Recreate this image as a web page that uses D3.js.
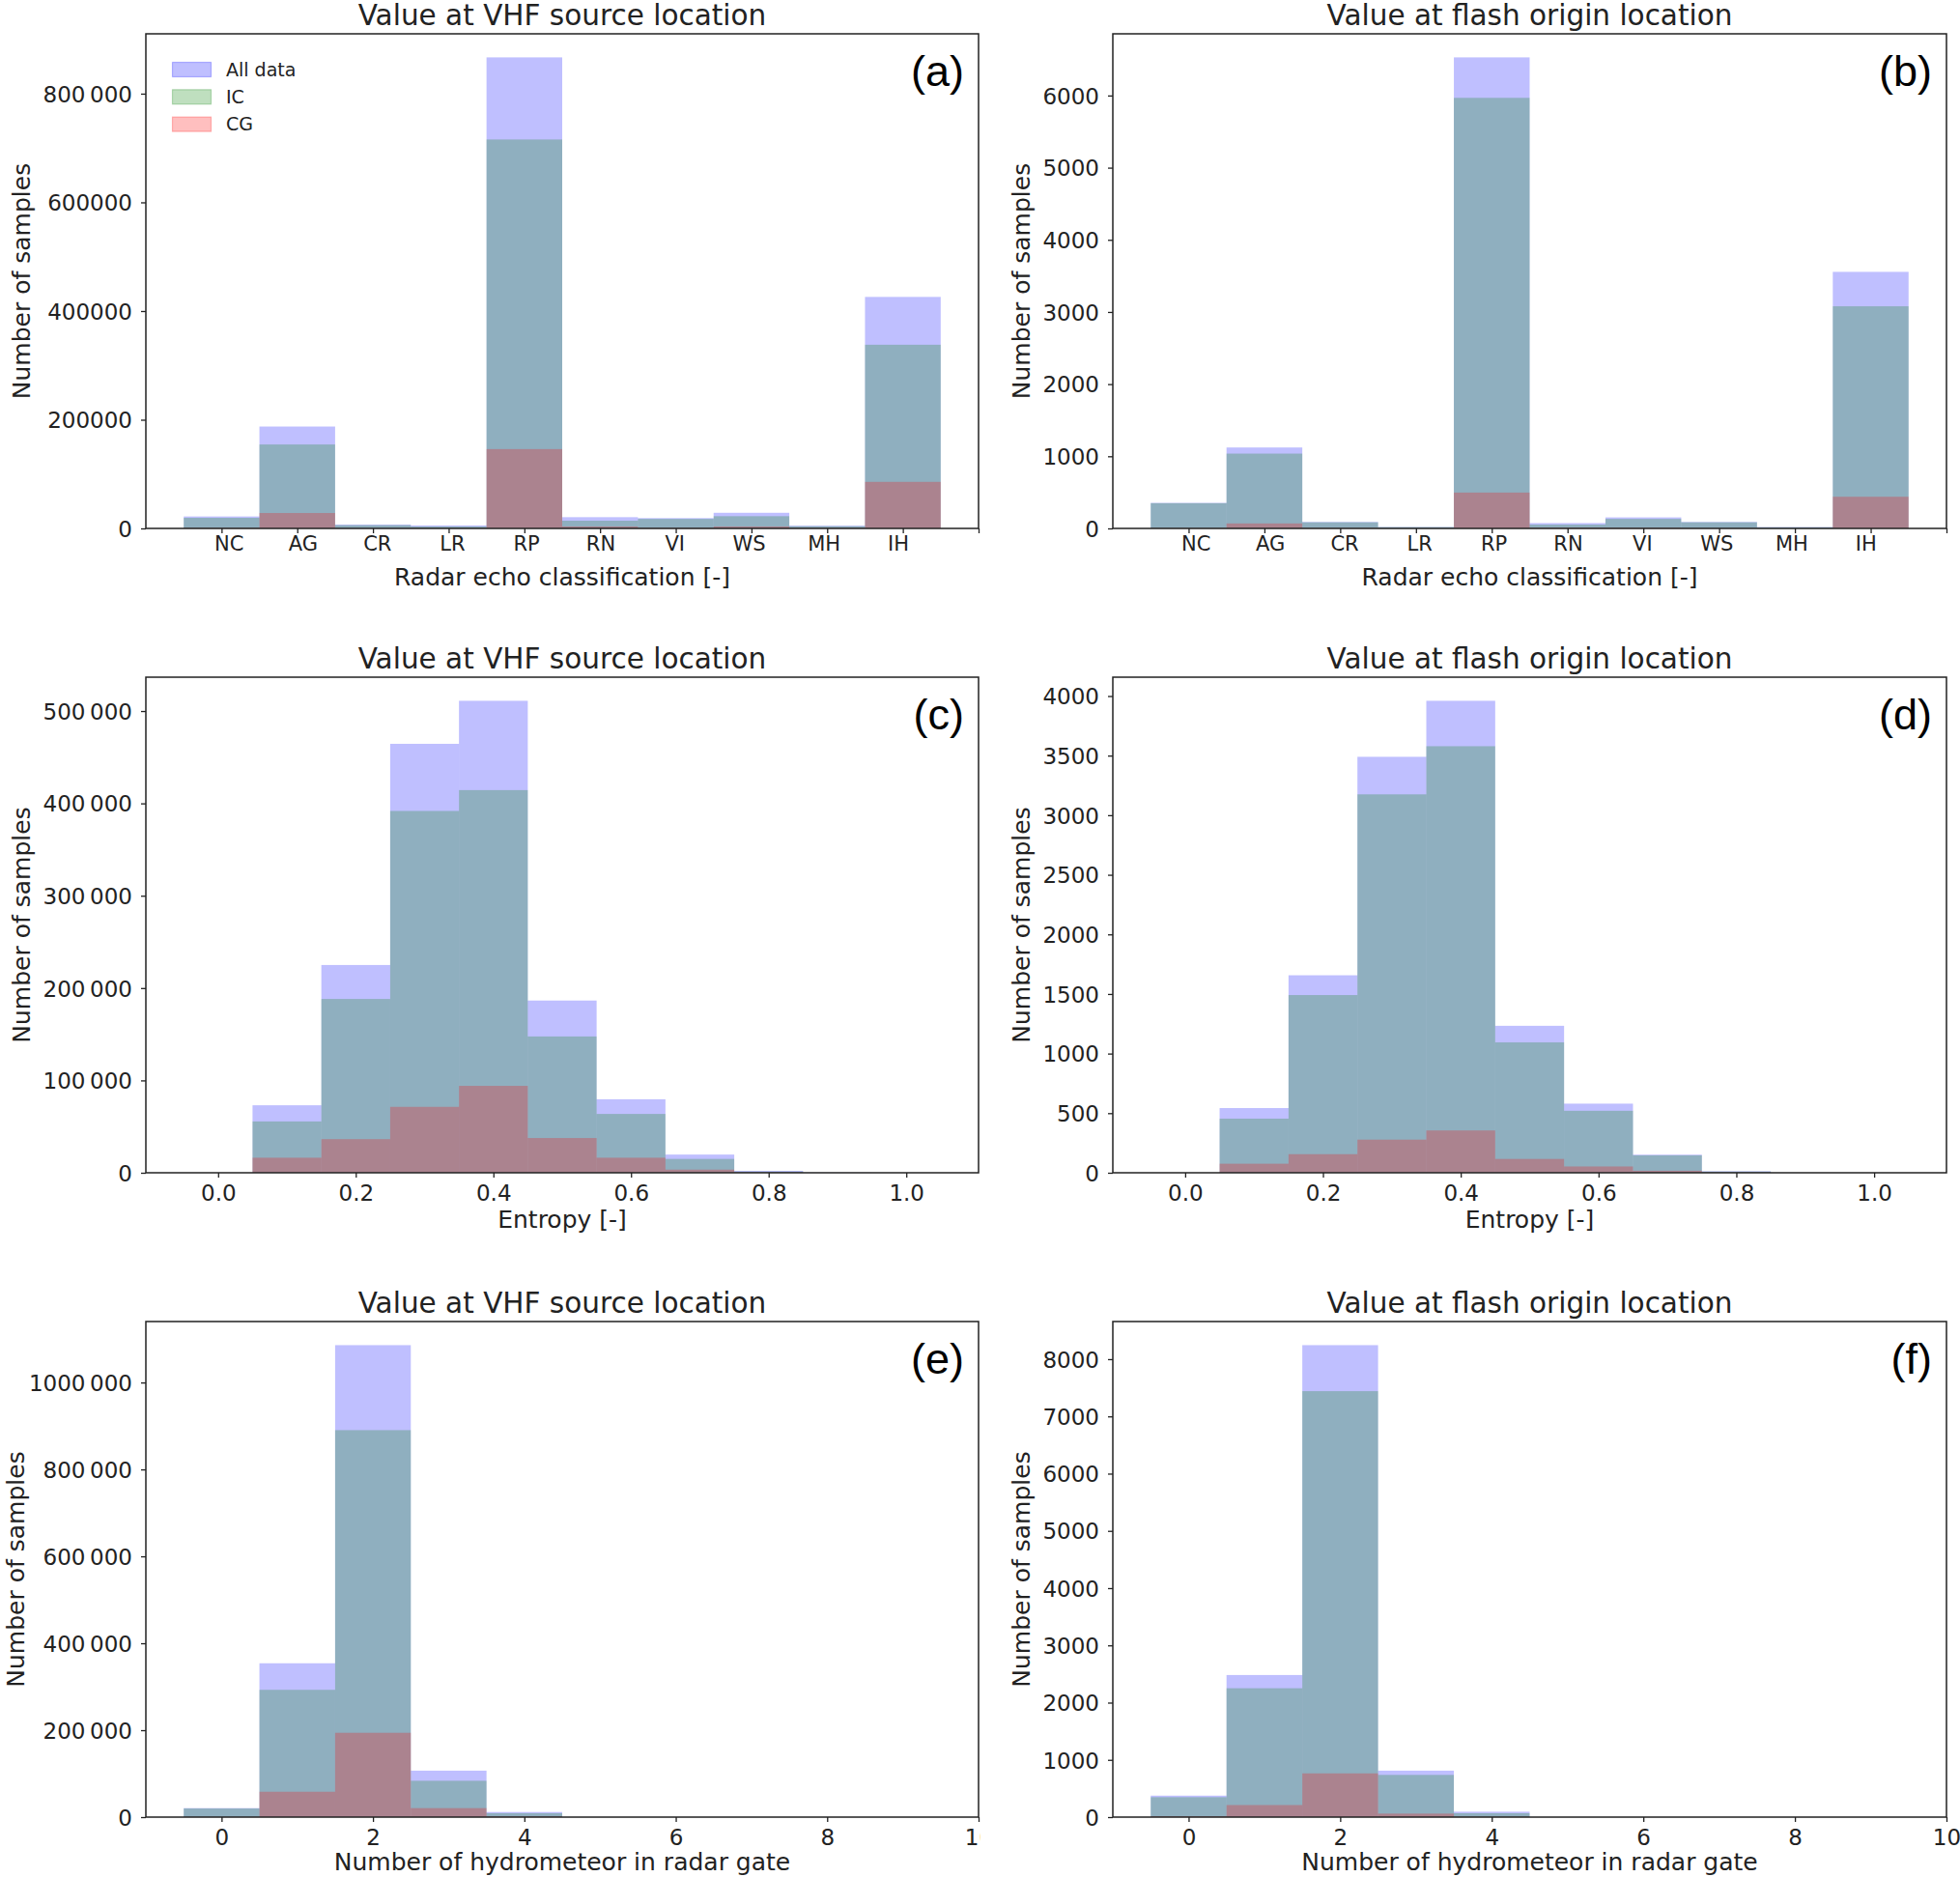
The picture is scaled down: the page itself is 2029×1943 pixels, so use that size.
<!DOCTYPE html>
<html><head><meta charset="utf-8">
<script src="https://cdn.jsdelivr.net/npm/d3@7/dist/d3.min.js"></script>
<style>body{margin:0;background:#fff}svg{display:block}</style>
</head><body>
<svg id="chart" width="2029" height="1943"></svg>
<script>
// ---------- data ----------
const classLabels = ["NC","AG","CR","LR","RP","RN","VI","WS","MH","IH"];
// positions (in bin units) at which the class names are printed (slightly off the bar centres, as in the original)
const classLabelPos = [0.10,1.08,2.06,3.05,4.03,5.01,5.99,6.97,7.96,8.94];
const classCenters = [0,1,2,3,4,5,6,7,8,9];
const entropyCenters = [0.0,0.1,0.2,0.3,0.4,0.5,0.6,0.7,0.8,0.9,1.0];
const hydroCenters = [0,1,2,3,4,5,6,7,8,9];

const seriesNames = ["All data","IC","CG"];
const seriesColors = ["#0000ff","#008000","#ff0000"];

// (a) radar echo class, VHF source
const aAll = [22000,187500,7000,5500,866800,20700,19000,28800,5000,426000];
const aIC  = [19500,154500,6000,3500,715700,14200,17500,22500,4000,338000];
const aCG  = [1000,28400,300,200,146000,3500,1000,3500,500,85700];
// (b) radar echo class, flash origin
const bAll = [354,1122,90,20,6529,74,153,90,20,3556];
const bIC  = [350,1037,85,18,5968,53,132,85,15,3079];
const bCG  = [5,69,5,0,497,10,10,3,0,439];
// (c) entropy, VHF source
const cAll = [0,73100,225000,464500,511100,186500,79600,19700,2100,100,0];
const cIC  = [0,55600,188200,391800,414400,147600,63700,15000,1300,50,0];
const cCG  = [0,16300,36400,71400,94100,37600,16300,3400,300,20,0];
// (d) entropy, flash origin
const dAll = [0,543,1657,3490,3960,1233,580,152,13,0,0];
const dIC  = [0,454,1491,3175,3579,1094,520,146,10,0,0];
const dCG  = [0,76,156,278,355,116,53,17,1,0,0];
// (e) number of hydrometeors, VHF source
const eAll = [20700,354000,1086000,106900,11700,0,0,0,0,0];
const eIC  = [19800,292900,890400,83600,9000,0,0,0,0,0];
const eCG  = [500,58400,194000,20700,1500,0,0,0,0,0];
// (f) number of hydrometeors, flash origin
const fAll = [375,2482,8245,812,95,0,0,0,0,0];
const fIC  = [348,2251,7441,737,68,0,0,0,0,0];
const fCG  = [14,211,764,61,5,0,0,0,0,0];

// tick labels
const aYTicks = [0,200000,400000,600000,800000];
const aYLabels = ["0","200000","400000","600000","800\u2009000"];
const bYTicks = [0,1000,2000,3000,4000,5000,6000];
const bYLabels = ["0","1000","2000","3000","4000","5000","6000"];
const cYTicks = [0,100000,200000,300000,400000,500000];
const cYLabels = ["0","100\u2009000","200\u2009000","300\u2009000","400\u2009000","500\u2009000"];
const dYTicks = [0,500,1000,1500,2000,2500,3000,3500,4000];
const dYLabels = ["0","500","1000","1500","2000","2500","3000","3500","4000"];
const eYTicks = [0,200000,400000,600000,800000,1000000];
const eYLabels = ["0","200\u2009000","400\u2009000","600\u2009000","800\u2009000","1000\u2009000"];
const fYTicks = [0,1000,2000,3000,4000,5000,6000,7000,8000];
const fYLabels = ["0","1000","2000","3000","4000","5000","6000","7000","8000"];

const classXTicks = [0,1,2,3,4,5,6,7,8,9,10];
const entropyXTicks = [0,0.2,0.4,0.6,0.8,1.0];
const entropyXLabels = ["0.0","0.2","0.4","0.6","0.8","1.0"];
const hydroXTicks = [0,2,4,6,8,10];
const hydroXLabels = ["0","2","4","6","8","10"];

const titleLeft = "Value at VHF source location";
const titleRight = "Value at flash origin location";
const yLabelText = "Number of samples";

// ---------- layout ----------
const cols = [{left:151, right:1013}, {left:1152, right:2015}];
const rows = [{top:35, bottom:547, xlab:59}, {top:701, bottom:1214, xlab:57}, {top:1368, bottom:1881, xlab:55}];
const FONT = "'DejaVu Sans', sans-serif";
const INK = "#222";

const panels = [
  {tag:"(a)", r:0, c:0, title:titleLeft, centers:classCenters, bw:1, xDom:[-1,10], xt:classXTicks, xl:null, xlabel:"Radar echo classification [-]", s:[aAll,aIC,aCG], yt:aYTicks, yl:aYLabels, legend:true, cat:true},
  {tag:"(b)", r:0, c:1, title:titleRight, centers:classCenters, bw:1, xDom:[-1,10], xt:classXTicks, xl:null, xlabel:"Radar echo classification [-]", s:[bAll,bIC,bCG], yt:bYTicks, yl:bYLabels, cat:true},
  {tag:"(c)", r:1, c:0, title:titleLeft, centers:entropyCenters, bw:0.1, xDom:[-0.105,1.105], xt:entropyXTicks, xl:entropyXLabels, xlabel:"Entropy [-]", s:[cAll,cIC,cCG], yt:cYTicks, yl:cYLabels},
  {tag:"(d)", r:1, c:1, title:titleRight, centers:entropyCenters, bw:0.1, xDom:[-0.105,1.105], xt:entropyXTicks, xl:entropyXLabels, xlabel:"Entropy [-]", s:[dAll,dIC,dCG], yt:dYTicks, yl:dYLabels},
  {tag:"(e)", r:2, c:0, title:titleLeft, centers:hydroCenters, bw:1, xDom:[-1,10], xt:hydroXTicks, xl:hydroXLabels, xlabel:"Number of hydrometeor in radar gate", s:[eAll,eIC,eCG], yt:eYTicks, yl:eYLabels},
  {tag:"(f)", r:2, c:1, title:titleRight, centers:hydroCenters, bw:1, xDom:[-1,10], xt:hydroXTicks, xl:hydroXLabels, xlabel:"Number of hydrometeor in radar gate", s:[fAll,fIC,fCG], yt:fYTicks, yl:fYLabels}
];

const svg = d3.select("#chart");
svg.append("rect").attr("width",2029).attr("height",1943).attr("fill","#fff");
const defs = svg.append("defs");
defs.append("clipPath").attr("id","leftClip").append("rect")
  .attr("x",0).attr("y",0).attr("width",1015).attr("height",1943);

panels.forEach(p => {
  const col = cols[p.c], row = rows[p.r];
  const g = svg.append("g");
  if (p.c === 0) g.attr("clip-path","url(#leftClip)");

  const x = d3.scaleLinear().domain(p.xDom).range([col.left, col.right]);
  const ymax = d3.max(p.s[0]) * 1.05;
  const y = d3.scaleLinear().domain([0, ymax]).range([row.bottom, row.top]);

  // bars (each series drawn from zero, translucent, overlapping)
  p.s.forEach((vals, si) => {
    g.append("g").selectAll("rect")
      .data(vals.map((v,i)=>({v, c:p.centers[i]})).filter(d=>d.v>0))
      .join("rect")
      .attr("x", d => x(d.c - p.bw/2))
      .attr("width", d => x(d.c + p.bw/2) - x(d.c - p.bw/2))
      .attr("y", d => y(d.v))
      .attr("height", d => y(0) - y(d.v))
      .attr("fill", seriesColors[si])
      .attr("fill-opacity", 0.25);
  });

  // y axis
  const ya = g.append("g").attr("transform", `translate(${col.left},0)`)
    .call(d3.axisLeft(y).tickValues(p.yt).tickFormat((d,i)=>p.yl[i]).tickSize(5).tickSizeOuter(0).tickPadding(9));
  ya.select(".domain").remove();
  ya.selectAll(".tick line").attr("stroke", INK).attr("stroke-width", 1.3);
  ya.selectAll(".tick text").attr("font-family", FONT).attr("font-size", 23).attr("fill", INK).attr("dy","0.36em");

  // x axis
  const xa = g.append("g").attr("transform", `translate(0,${row.bottom})`)
    .call(d3.axisBottom(x).tickValues(p.xt).tickFormat((d,i)=> p.xl ? p.xl[i] : "").tickSize(5).tickSizeOuter(0));
  xa.select(".domain").remove();
  xa.selectAll(".tick line").attr("stroke", INK).attr("stroke-width", 1.3);
  if (p.cat) {
    xa.selectAll(".tick text").remove();
    xa.append("g").selectAll("text")
      .data(classLabels.map((t,i)=>({t, pos:classLabelPos[i]})))
      .join("text")
      .attr("x", d => x(d.pos)).attr("y", 23)
      .attr("text-anchor","middle").attr("font-family", FONT).attr("font-size", 21)
      .attr("fill", INK).text(d => d.t);
  } else {
    xa.selectAll(".tick text").attr("font-family", FONT).attr("fill", INK)
      .attr("font-size", 23).attr("y", 29).attr("dy", 0);
  }

  // frame
  g.append("rect").attr("x", col.left).attr("y", row.top)
    .attr("width", col.right - col.left).attr("height", row.bottom - row.top)
    .attr("fill","none").attr("stroke", INK).attr("stroke-width", 1.5);

  // title
  g.append("text").attr("x", (col.left+col.right)/2).attr("y", row.top - 9)
    .attr("text-anchor","middle").attr("font-family", FONT).attr("font-size", 29.5)
    .attr("fill", INK).text(p.title);

  // panel tag
  g.append("text").attr("x", col.right - 15).attr("y", row.top + 54)
    .attr("text-anchor","end").attr("font-family","'Liberation Sans', Arial, sans-serif")
    .attr("font-size", 45).attr("fill","#000").text(p.tag);

  // x label
  g.append("text").attr("x", (col.left+col.right)/2).attr("y", row.bottom + row.xlab)
    .attr("text-anchor","middle").attr("font-family", FONT).attr("font-size", 25)
    .attr("fill", INK).text(p.xlabel);

  // y label, placed from measured tick label widths
  let maxW = 0;
  ya.selectAll(".tick text").each(function(){ maxW = Math.max(maxW, this.getComputedTextLength()); });
  const lx = Math.max(col.left - 14 - maxW - 13.5, (p.c === 0 ? 0 : 1015) + 25);
  g.append("text").attr("transform", `translate(${lx},${(row.top+row.bottom)/2}) rotate(-90)`)
    .attr("text-anchor","middle").attr("font-family", FONT).attr("font-size", 25)
    .attr("fill", INK).text(yLabelText);

  // legend
  if (p.legend) {
    const lg = g.append("g");
    seriesNames.forEach((name, i) => {
      const cy = row.top + 37 + i*28.3;
      lg.append("rect").attr("x", col.left + 27.5).attr("y", cy - 7.5)
        .attr("width", 40).attr("height", 15)
        .attr("fill", seriesColors[i]).attr("fill-opacity", 0.25)
        .attr("stroke", seriesColors[i]).attr("stroke-opacity", 0.25).attr("stroke-width", 1.2);
      lg.append("text").attr("x", col.left + 83).attr("y", cy + 6.5)
        .attr("font-family", FONT).attr("font-size", 19).attr("fill", INK).text(name);
    });
  }
});
</script>
</body></html>
